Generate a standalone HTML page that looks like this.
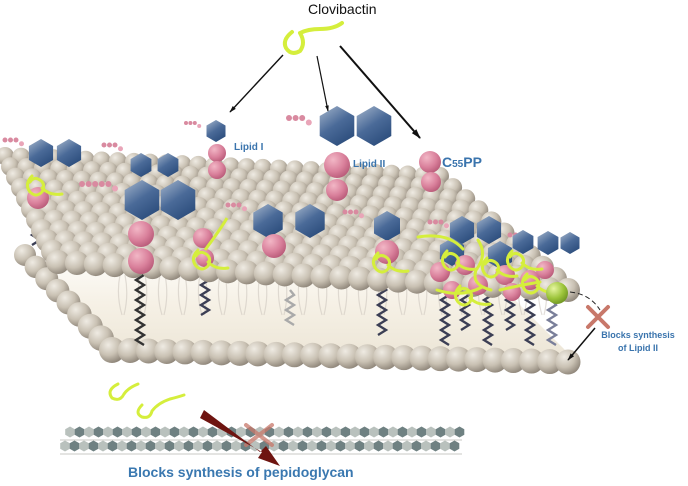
<!DOCTYPE html>
<html><head><meta charset="utf-8">
<style>
html,body{margin:0;padding:0;background:#fff;}
svg{display:block;}
text{font-family:"Liberation Sans",Arial,sans-serif;}
</style></head>
<body>
<svg id="s" width="688" height="486" viewBox="0 0 688 486" xmlns="http://www.w3.org/2000/svg">
<defs>
<radialGradient id="bead" cx="0.35" cy="0.3" r="0.75">
<stop offset="0" stop-color="#efebe3"/><stop offset="0.55" stop-color="#c9c1b3"/><stop offset="1" stop-color="#8d8478"/>
</radialGradient>
<radialGradient id="pink" cx="0.35" cy="0.3" r="0.75">
<stop offset="0" stop-color="#f2b7c6"/><stop offset="0.6" stop-color="#d9809b"/><stop offset="1" stop-color="#b85a78"/>
</radialGradient>
<linearGradient id="hex" x1="0" y1="0" x2="0.6" y2="1">
<stop offset="0" stop-color="#a5b6cc"/><stop offset="0.55" stop-color="#4a6a98"/><stop offset="1" stop-color="#2e4f7e"/>
</linearGradient>
<radialGradient id="gball" cx="0.35" cy="0.3" r="0.75">
<stop offset="0" stop-color="#e6f5a0"/><stop offset="0.6" stop-color="#9cc43a"/><stop offset="1" stop-color="#6e9422"/>
</radialGradient>
<linearGradient id="cream" x1="0" y1="0" x2="0" y2="1">
<stop offset="0" stop-color="#ffffff"/><stop offset="0.5" stop-color="#f6f1e6"/><stop offset="1" stop-color="#ece5d6"/>
</linearGradient>
<marker id="ah" viewBox="0 0 10 10" refX="9" refY="5" markerWidth="7" markerHeight="5" orient="auto"><path d="M0,2 L10,5 L0,8 z" fill="#111"/></marker>
</defs>
<g id="lower"></g>
<g id="tails"></g>
<g id="upper"></g>
<g id="mol"></g>
<g id="over"></g>
</svg>
<script>
const NS="http://www.w3.org/2000/svg";
function el(p,t,a){const e=document.createElementNS(NS,t);for(const k in a)e.setAttribute(k,a[k]);p.appendChild(e);return e;}
const lower=document.getElementById('lower'),tails=document.getElementById('tails'),upper=document.getElementById('upper'),mol=document.getElementById('mol'),over=document.getElementById('over');
function bil(c,u,v){return [c.BL[0]*(1-u)*(1-v)+c.BR[0]*u*(1-v)+c.FL[0]*(1-u)*v+c.FR[0]*u*v, c.BL[1]*(1-u)*(1-v)+c.BR[1]*u*(1-v)+c.FL[1]*(1-u)*v+c.FR[1]*u*v];}
const L={BL:[25,255],BR:[470,268],FL:[112,350],FR:[568,362]};
el(lower,'polygon',{points:"22,245 470,255 575,360 108,350",fill:"url(#cream)"});
for(let i=0;i<=8;i++){const v=i/8;const p=bil(L,0,v);el(lower,'circle',{cx:p[0],cy:p[1],r:11+2*v,fill:'url(#bead)'});}
for(let j=0;j<=25;j++){const u=j/25;const p=bil(L,u,1);el(lower,'circle',{cx:p[0],cy:p[1],r:12.5,fill:'url(#bead)'});}
for(let j=0;j<22;j++){const x=120+j*20;el(tails,'path',{d:`M${x},275 q-4,20 2,40 M${x+5},275 q4,20 -1,40`,stroke:'#cfc8bf','stroke-width':1.2,fill:'none',opacity:0.6});}
function zig(x,y1,y2,c){let d=`M${x},${y1}`;let s=1;for(let y=y1+5;y<=y2;y+=5){d+=` L${x+s*4},${y}`;s=-s;}el(tails,'path',{d:d,stroke:c||'#3c3f55','stroke-width':2.4,fill:'none'});}
zig(36,205,245);zig(140,270,345,'#333');zig(205,265,315);zig(382,275,335);
[445,465,488,510,530].forEach((x,i)=>zig(x,290,345-(i%2)*15));zig(552,300,345,'#7a7f9a');zig(290,290,325,'#aaa');
const U={BL:[5,156],BR:[440,176],FL:[58,262],FR:[568,290]};
const NR=10,NC=27;
for(let i=0;i<=NR;i++){const v=i/NR;for(let j=0;j<=NC;j++){const u=j/NC;const p=bil(U,u,v);el(upper,'circle',{cx:p[0],cy:p[1],r:9+3*v,fill:'url(#bead)'});}}
function hex(cx,cy,r){let pts=[];for(let k=0;k<6;k++){const a=Math.PI/6+k*Math.PI/3;pts.push((cx+r*Math.cos(a)).toFixed(1)+','+(cy+r*Math.sin(a)).toFixed(1));}el(mol,'polygon',{points:pts.join(' '),fill:'url(#hex)'});}
function ball(x,y,r){el(mol,'circle',{cx:x,cy:y,r:r,fill:'url(#pink)'});}
function dots(x,y,n,r){for(let k=0;k<n;k++)el(mol,'circle',{cx:x+k*r*2.2,cy:y,r:r,fill:'#d98aa0'});el(mol,'circle',{cx:x+n*r*2.2,cy:y+r*1.5,r:r,fill:'#e9a5b8'});}
function loop(x,y,s){el(mol,'path',{d:`M${x-8*s},${y-12*s} q-8,8 -2,16 q6,6 12,0 q4,-8 -2,-12 q-6,-4 -10,2 M${x+2*s},${y} q8,8 20,6`,stroke:'#d5ee3c','stroke-width':3,fill:'none','stroke-linecap':'round','stroke-linejoin':'round'});}
dots(5,140,3,2.5);hex(41,153,14);hex(69,153,14);ball(38,198,11);loop(40,188,1);
dots(104,145,3,2.5);hex(141,165,12);hex(168,165,12);
dots(186,123,3,2);hex(216,131,11);ball(217,153,9);ball(217,170,9);
dots(289,118,3,3);hex(337,126,20);hex(374,126,20);ball(337,165,13);ball(337,190,11);
ball(430,162,11);ball(431,182,10);
dots(82,184,5,3);hex(142,200,20);hex(178,200,20);ball(141,234,13);ball(141,261,13);
ball(203,238,10);ball(205,258,9);loop(206,262,1);el(mol,'path',{d:'M205,250 q15,-20 22,-32',stroke:'#d5ee3c','stroke-width':3,fill:'none'});
dots(228,205,3,2.5);hex(268,221,17);hex(310,221,17);ball(274,246,12);
dots(345,212,3,2.5);hex(387,226,15);ball(387,252,12);loop(386,265,1);
dots(430,222,3,2.5);dots(510,235,3,2.5);
hex(462,230,14);hex(489,230,14);hex(452,252,14);hex(500,255,14);hex(523,242,12);hex(548,243,12);hex(570,243,11);
ball(440,272,10);ball(465,265,10);ball(478,285,10);ball(505,275,10);ball(530,280,10);ball(545,270,9);ball(452,290,9);ball(512,292,9);
[[455,255],[495,262],[520,255],[468,290],[535,278]].forEach(p=>loop(p[0],p[1]+8,1));
el(mol,'path',{d:'M418,237 q30,-5 45,12 M478,240 q10,15 -2,30 q-5,15 15,20 M437,290 q25,8 45,-3 M500,290 q20,-5 40,-8',stroke:'#d5ee3c','stroke-width':3,fill:'none','stroke-linecap':'round'});
el(mol,'circle',{cx:557,cy:293,r:11,fill:'url(#gball)'});
el(over,'text',{x:234,y:150,'font-size':10,'font-weight':'bold',fill:'#3a74ad'}).textContent='Lipid I';
el(over,'text',{x:353,y:167,'font-size':10,'font-weight':'bold',fill:'#3a74ad'}).textContent='Lipid II';
const c=el(over,'text',{x:442,y:167,'font-size':14,'font-weight':'bold',fill:'#3a74ad'});c.innerHTML='C<tspan font-size="10">55</tspan>PP';
el(over,'text',{x:308,y:14,'font-size':14,fill:'#111'}).textContent='Clovibactin';
el(over,'path',{d:'M292,32 q-10,8 -6,16 q5,8 14,3 q6,-8 0,-18 q8,-4 20,-4 q14,0 22,-6',stroke:'#d5ee3c','stroke-width':4,fill:'none','stroke-linecap':'round','stroke-linejoin':'round'});
el(over,'line',{x1:283,y1:55,x2:230,y2:112,stroke:'#111','stroke-width':1.4,'marker-end':'url(#ah)'});
el(over,'line',{x1:317,y1:56,x2:328,y2:111,stroke:'#111','stroke-width':1.2,'marker-end':'url(#ah)'});
el(over,'line',{x1:340,y1:46,x2:420,y2:138,stroke:'#111','stroke-width':2,'marker-end':'url(#ah)'});
el(over,'path',{d:'M570,292 q20,2 30,18',stroke:'#222','stroke-width':1,'stroke-dasharray':'5,3',fill:'none'});
el(over,'path',{d:'M588,307 L608,327 M608,307 L588,327',stroke:'#c8786a','stroke-width':4,'stroke-linecap':'round'});
el(over,'line',{x1:595,y1:328,x2:568,y2:360,stroke:'#111','stroke-width':1.5,'marker-end':'url(#ah)'});
el(over,'text',{x:638,y:338,'font-size':9,'font-weight':'bold',fill:'#3a74ad','text-anchor':'middle'}).textContent='Blocks synthesis';
el(over,'text',{x:638,y:351,'font-size':9,'font-weight':'bold',fill:'#3a74ad','text-anchor':'middle'}).textContent='of Lipid II';
el(over,'path',{d:'M118,384 q-12,6 -6,14 q8,4 12,-4 q4,-6 14,-10 M142,405 q-8,8 0,12 q8,2 10,-6 q6,-8 18,-12 q8,-2 14,-4',stroke:'#d5ee3c','stroke-width':3,fill:'none','stroke-linecap':'round'});
for(let r=0;r<2;r++){for(let k=0;k<44;k++){const x=70+k*9.5+r*(-5),y=432+r*14;if(x>462)continue;
let pts=[];for(let m=0;m<6;m++){const a=Math.PI/6+m*Math.PI/3;pts.push((x+5.5*Math.cos(a)).toFixed(1)+','+(y+5.5*Math.sin(a)).toFixed(1));}
el(over,'polygon',{points:pts.join(' '),fill:k%2?'#6f8182':'#b9c1bd'});}
el(over,'line',{x1:60,y1:440+r*14,x2:462,y2:440+r*14,stroke:'#b8b8b0','stroke-width':0.7});}
el(over,'path',{d:'M246,425 L272,445 M272,425 L246,445',stroke:'#c8786a','stroke-width':4,'stroke-linecap':'round',opacity:0.75});
el(over,'path',{d:'M200,418 L262,452 L258,458 L280,466 L266,446 L260,452 L204,410 z',fill:'#6e1410'});
el(over,'text',{x:128,y:477,'font-size':14,'font-weight':'bold',fill:'#3a78b0'}).textContent='Blocks synthesis of pepidoglycan';
</script>
</body></html>
